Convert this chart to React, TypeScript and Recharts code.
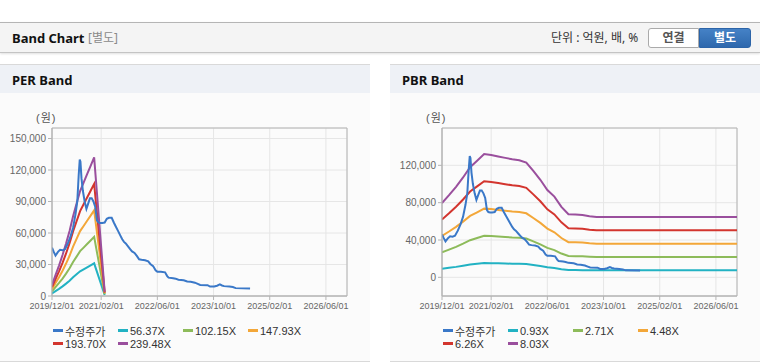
import React from 'react';
import { LineChart, Line, XAxis, YAxis, CartesianGrid, ReferenceArea } from 'recharts';

// ---- axis ticks (month index: 0 = 2019/12/01) ----
const xTickMonths = [0, 14, 30, 46, 62, 78];
const xTickLabels = ['2019/12/01', '2021/02/01', '2022/06/01', '2023/10/01', '2025/02/01', '2026/06/01'];
const perYTicks = [0, 30000, 60000, 90000, 120000, 150000];
const pbrYTicks = [0, 40000, 80000, 120000];

// ---- adjusted share price (수정주가) ----
const priceMonths = [
  0, 0.5, 1, 1.7, 2.3, 3, 3.7, 4.5, 5.3, 6,
  6.7, 7.2, 7.6, 7.9, 8.1, 8.4, 8.8, 9.3, 9.8, 10.3,
  10.8, 11.3, 11.8, 12.3, 12.8, 13.2, 13.7, 14.3, 15, 15.6,
  16.2, 17, 17.6, 18.2, 18.8, 19.4, 20, 20.5, 21, 21.7,
  22.3, 22.8, 23.5, 24.2, 24.8, 25.5, 26.5, 27.4, 28, 28.8,
  29.5, 30, 31, 32.2, 32.8, 33.2, 34.5, 35.2, 36, 37.5,
  38.5, 39.5, 40.7, 41.5, 42.2, 44.3, 45, 46.2, 47, 47.8,
  48.4, 49, 50.5, 51.5, 52.3, 56.4,
];
const priceValues = [
  46000, 42000, 38500, 42000, 44000, 43500, 44500, 50000, 57000, 65000,
  78000, 90000, 115000, 130000, 128000, 112000, 100000, 90000, 83000, 88000,
  93000, 93000, 90000, 85000, 72000, 70000, 69500, 69500, 70000, 73500,
  74500, 74500, 70000, 66000, 62000, 58000, 54000, 51500, 50000, 47000,
  44500, 42500, 41000, 38000, 35000, 34500, 34000, 33000, 30500, 28500,
  24500, 23000, 23000, 22500, 19000, 17500, 17000, 16500, 15500, 15000,
  13800, 13500, 12700, 11500, 10500, 10300, 9000, 9000, 9800, 11000,
  10000, 9400, 9000, 8500, 7500, 7200,
];

// ---- PER band ----
const perBandMonths = [0, 1, 2, 3, 4, 5, 6, 7, 8, 9, 10, 11, 12, 15];
const per5637 = [2500, 4700, 6800, 9200, 11800, 14600, 17900, 20700, 23500, 25400, 27300, 29200, 31100, 900];
const per10215 = [4500, 8500, 12400, 16600, 21300, 26400, 32400, 37500, 42700, 46100, 49500, 52900, 56300, 1700];
const per14793 = [6500, 12400, 17900, 24100, 30900, 38300, 47000, 54400, 61800, 66700, 71700, 76600, 81600, 2500];
const per19370 = [8500, 16200, 23500, 31600, 40500, 50200, 61500, 71200, 80900, 87400, 93800, 100300, 106800, 3200];
const per23948 = [10500, 20000, 29000, 39000, 50000, 62000, 76000, 88000, 100000, 108000, 116000, 124000, 132000, 4000];
const perNames = ['수정주가', '56.37X', '102.15X', '147.93X', '193.70X', '239.48X'];

// ---- PBR band ----
const pbrBandMonths = [0, 2, 4, 6, 8, 10, 12, 14, 16, 18, 20, 22, 24, 26, 28, 30, 32, 34, 36, 38, 40, 42, 44, 84];
const pbr093 = [9200, 10200, 11200, 12400, 13700, 14500, 15300, 15200, 15000, 14800, 14600, 14500, 14200, 13200, 12100, 10800, 10000, 8700, 7800, 7800, 7700, 7600, 7500, 7500];
const pbr271 = [26800, 29700, 32700, 36100, 39800, 42200, 44500, 44200, 43700, 43200, 42700, 42400, 41500, 38500, 35300, 31600, 29200, 25500, 22800, 22700, 22500, 22100, 21800, 21800];
const pbr448 = [44400, 49100, 54100, 59700, 65800, 69700, 73600, 73100, 72200, 71400, 70600, 70000, 68600, 63600, 58300, 52200, 48300, 42100, 37700, 37500, 37300, 36500, 36100, 36100];
const pbr626 = [62000, 68600, 75600, 83400, 92000, 97400, 102900, 102100, 101000, 99800, 98600, 97800, 95900, 88900, 81500, 72900, 67400, 58900, 52700, 52400, 52100, 51100, 50400, 50400];
const pbr803 = [79500, 88000, 97000, 107000, 118000, 125000, 132000, 131000, 129500, 128000, 126500, 125500, 123000, 114000, 104500, 93500, 86500, 75500, 67600, 67200, 66800, 65500, 64700, 64700];
const pbrNames = ['수정주가', '0.93X', '2.71X', '4.48X', '6.26X', '8.03X'];

const colors = ['#3a78c8', '#22b2c3', '#8dbb5a', '#f3a739', '#d3352e', '#9a4f9d'];

const toRows = (months: number[], values: number[]) => months.map((m, i) => ({ m, v: values[i] }));

const FONT = "'Liberation Sans', Arial, 'Noto Sans CJK KR', sans-serif";
const KFONT = "'Noto Sans', 'Noto Sans CJK KR', sans-serif";

type Series = { name: string; rows: { m: number; v: number }[]; color: string };

function BandPanel(props: {
  left: number;
  title: string;
  yDomain: [number, number];
  yTicks: number[];
  series: Series[];
}) {
  const { left, title, yDomain, yTicks, series } = props;
  const draw = [...series.slice(1), series[0]];
  return (
    <div
      style={{
        position: 'absolute',
        left,
        top: 64,
        width: 370,
        height: 298,
        background: '#fbfbfb',
        borderTop: '1px solid #d9d9d9',
        borderBottom: '1px solid #d9d9d9',
        boxSizing: 'border-box',
      }}
    >
      <div
        style={{
          position: 'absolute',
          left: 0,
          top: 0,
          width: 370,
          height: 28,
          background: '#eef1f6',
        }}
      />
      <div
        style={{
          position: 'absolute',
          left: 12,
          top: 7,
          fontFamily: KFONT,
          fontWeight: 700,
          fontSize: 13,
          lineHeight: '16px',
          color: '#111',
        }}
      >
        {title}
      </div>
      <div
        style={{
          position: 'absolute',
          left: 36,
          top: 46,
          fontFamily: FONT,
          fontSize: 11,
          lineHeight: '14px',
          color: '#555',
          letterSpacing: 1,
        }}
      >
        (원)
      </div>
      <div style={{ position: 'absolute', left: 0, top: 27 }}>
        <LineChart width={370} height={228} margin={{ top: 36, right: 23, bottom: 0, left: 0 }}>
          <CartesianGrid stroke="#e6e6e6" strokeWidth={1} />
          <ReferenceArea
            x1={0}
            x2={84}
            y1={yDomain[0]}
            y2={yDomain[1]}
            fill="none"
            fillOpacity={0}
            stroke="#b4b4b4"
            strokeWidth={1}
          />
          <XAxis
            dataKey="m"
            type="number"
            domain={[0, 84]}
            ticks={xTickMonths}
            tickFormatter={(v: number) => xTickLabels[xTickMonths.indexOf(v)] ?? ''}
            interval={0}
            height={24}
            tickSize={4}
            tickMargin={3}
            axisLine={{ stroke: '#b4b4b4' }}
            tickLine={{ stroke: '#b4b4b4' }}
            tick={{ fontSize: 9, fill: '#666', fontFamily: FONT }}
            allowDataOverflow
          />
          <YAxis
            type="number"
            domain={yDomain}
            ticks={yTicks}
            interval={0}
            width={52}
            tickSize={4}
            tickMargin={2}
            axisLine={{ stroke: '#b4b4b4' }}
            tickLine={{ stroke: '#b4b4b4' }}
            tick={{ fontSize: 10, fill: '#666', fontFamily: FONT }}
            tickFormatter={(v: number) => v.toLocaleString('en-US')}
            allowDataOverflow
          />
          {draw.map((s) => (
            <Line
              key={s.name}
              data={s.rows}
              dataKey="v"
              name={s.name}
              type="linear"
              stroke={s.color}
              strokeWidth={2}
              dot={false}
              activeDot={false}
              isAnimationActive={false}
            />
          ))}
        </LineChart>
      </div>
      {series.map((s, i) => (
        <div
          key={s.name}
          style={{
            position: 'absolute',
            left: 53 + (i % 4) * 65,
            top: 259 + Math.floor(i / 4) * 13,
            height: 13,
            display: 'flex',
            alignItems: 'center',
            fontFamily: FONT,
            fontSize: 11,
            color: '#333',
            whiteSpace: 'nowrap',
          }}
        >
          <span style={{ display: 'inline-block', width: 10, height: 3, background: s.color, marginRight: 2 }} />
          <span>{s.name}</span>
        </div>
      ))}
    </div>
  );
}

export default function App() {
  const perSeries: Series[] = [
    { name: perNames[0], rows: toRows(priceMonths, priceValues), color: colors[0] },
    { name: perNames[1], rows: toRows(perBandMonths, per5637), color: colors[1] },
    { name: perNames[2], rows: toRows(perBandMonths, per10215), color: colors[2] },
    { name: perNames[3], rows: toRows(perBandMonths, per14793), color: colors[3] },
    { name: perNames[4], rows: toRows(perBandMonths, per19370), color: colors[4] },
    { name: perNames[5], rows: toRows(perBandMonths, per23948), color: colors[5] },
  ];
  const pbrSeries: Series[] = [
    { name: pbrNames[0], rows: toRows(priceMonths, priceValues), color: colors[0] },
    { name: pbrNames[1], rows: toRows(pbrBandMonths, pbr093), color: colors[1] },
    { name: pbrNames[2], rows: toRows(pbrBandMonths, pbr271), color: colors[2] },
    { name: pbrNames[3], rows: toRows(pbrBandMonths, pbr448), color: colors[3] },
    { name: pbrNames[4], rows: toRows(pbrBandMonths, pbr626), color: colors[4] },
    { name: pbrNames[5], rows: toRows(pbrBandMonths, pbr803), color: colors[5] },
  ];

  return (
    <div
      style={{
        position: 'absolute',
        left: 0,
        top: 0,
        width: 760,
        height: 364,
        background: '#ffffff',
        overflow: 'hidden',
      }}
    >
      {/* header bar */}
      <div
        style={{
          position: 'absolute',
          left: 0,
          top: 22,
          width: 760,
          height: 31,
          background: '#f4f4f4',
          borderTop: '1px solid #b5b5b5',
          borderBottom: '1px solid #c4c4c4',
          boxShadow: '0 1px 2px rgba(0,0,0,0.12)',
          boxSizing: 'border-box',
        }}
      />
      <div
        style={{
          position: 'absolute',
          left: 12,
          top: 30,
          fontFamily: KFONT,
          fontWeight: 700,
          fontSize: 13,
          lineHeight: '16px',
          color: '#111',
        }}
      >
        Band Chart
      </div>
      <div
        style={{
          position: 'absolute',
          left: 88,
          top: 30,
          fontFamily: KFONT,
          fontSize: 12,
          lineHeight: '16px',
          color: '#8a8a8a',
        }}
      >
        [별도]
      </div>
      <div
        style={{
          position: 'absolute',
          left: 551,
          top: 30,
          fontFamily: KFONT,
          fontSize: 12,
          lineHeight: '16px',
          color: '#333',
        }}
      >
        단위 : 억원, 배, %
      </div>
      <div
        style={{
          position: 'absolute',
          left: 648,
          top: 28,
          width: 51,
          height: 20,
          boxSizing: 'border-box',
          border: '1px solid #aaaaaa',
          borderRadius: '3px 0 0 3px',
          background: '#ffffff',
          fontFamily: KFONT,
          fontWeight: 700,
          fontSize: 12,
          lineHeight: '18px',
          textAlign: 'center',
          color: '#555',
        }}
      >
        연결
      </div>
      <div
        style={{
          position: 'absolute',
          left: 699,
          top: 28,
          width: 52,
          height: 20,
          boxSizing: 'border-box',
          border: '1px solid #2c64a8',
          borderRadius: '0 3px 3px 0',
          background: 'linear-gradient(#4582c6, #2e68ad)',
          fontFamily: KFONT,
          fontWeight: 700,
          fontSize: 12,
          lineHeight: '18px',
          textAlign: 'center',
          color: '#ffffff',
        }}
      >
        별도
      </div>

      <BandPanel left={0} title="PER Band" yDomain={[0, 160000]} yTicks={perYTicks} series={perSeries} />
      <BandPanel left={390} title="PBR Band" yDomain={[-20000, 160000]} yTicks={pbrYTicks} series={pbrSeries} />
    </div>
  );
}
